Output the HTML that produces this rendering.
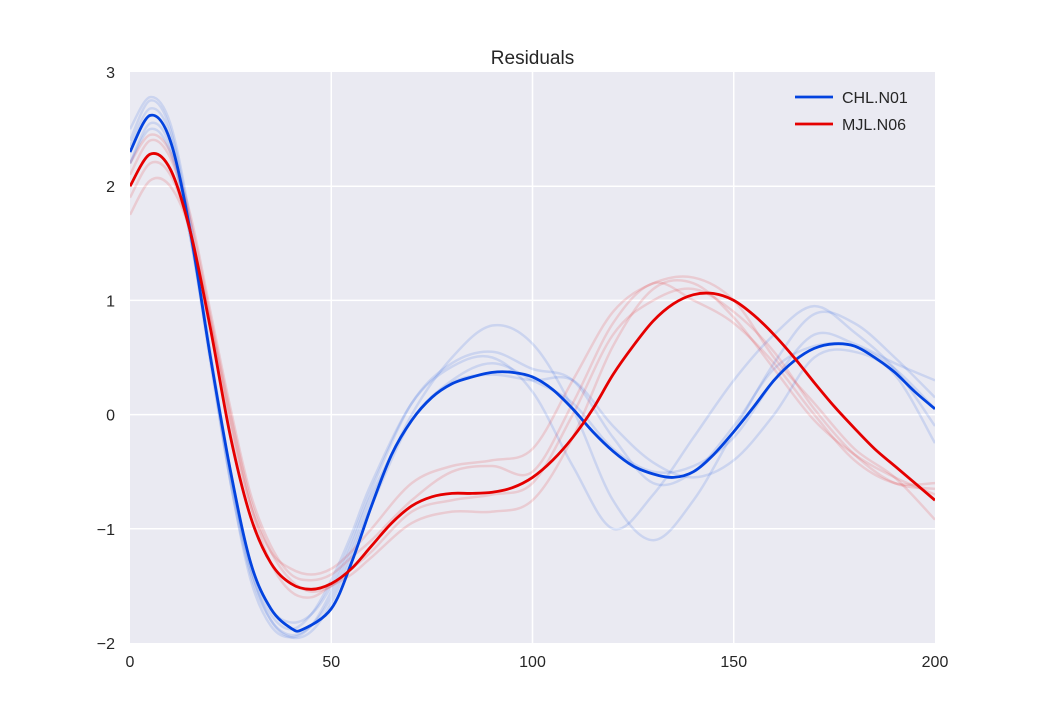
<!DOCTYPE html>
<html><head><meta charset="utf-8"><style>
body{margin:0;background:#fff;}
svg{display:block;font-family:"Liberation Sans",Arial,sans-serif;}
</style></head><body>
<svg id="chart" width="1040" height="715" viewBox="0 0 1040 715"></svg>
<script>
const xFine = [0,5,10,15,20,25,30,35,40,43,50,55,60,65,70,75,80,85,90,95,100,105,110,115,120,125,130,135,140,145,150,155,160,165,170,175,180,185,190,195,200];
const blueMain = [2.3,2.62,2.4,1.6,0.5,-0.5,-1.3,-1.7,-1.87,-1.88,-1.7,-1.3,-0.8,-0.35,-0.05,0.15,0.27,0.33,0.37,0.37,0.33,0.22,0.05,-0.15,-0.32,-0.45,-0.52,-0.55,-0.5,-0.35,-0.15,0.07,0.3,0.47,0.58,0.62,0.6,0.5,0.37,0.2,0.05];
const xRed = [0,5,10,15,20,25,30,35,40,45,50,55,60,65,70,75,80,85,90,95,100,105,110,115,120,125,130,135,140,145,150,155,160,165,170,175,180,185,190,195,200];
const redMain = [2.0,2.28,2.15,1.6,0.75,-0.2,-0.9,-1.3,-1.48,-1.53,-1.48,-1.35,-1.15,-0.95,-0.8,-0.72,-0.69,-0.69,-0.68,-0.64,-0.55,-0.4,-0.2,0.05,0.35,0.6,0.82,0.97,1.05,1.06,1.0,0.87,0.7,0.5,0.28,0.07,-0.12,-0.3,-0.45,-0.6,-0.75];
const xFaint = [0,5,10,15,20,25,30,35,40,45,50,55,60,70,80,90,100,110,120,130,140,150,160,170,180,190,200];
const blueFaint1 = [2.4,2.75,2.5,1.65,0.5,-0.6,-1.4,-1.8,-1.93,-1.85,-1.6,-1.2,-0.75,0.0,0.5,0.78,0.62,0.05,-0.75,-1.1,-0.75,-0.15,0.45,0.88,0.8,0.5,0.15];
const blueFaint2 = [2.2,2.55,2.35,1.55,0.45,-0.6,-1.45,-1.85,-1.95,-1.85,-1.55,-1.15,-0.7,-0.05,0.3,0.45,0.3,0.1,-0.3,-0.5,-0.45,-0.2,0.3,0.7,0.62,0.45,0.3];
const blueFaint3 = [2.35,2.68,2.45,1.6,0.5,-0.55,-1.35,-1.75,-1.88,-1.75,-1.45,-1.05,-0.6,0.1,0.42,0.5,0.2,-0.45,-1.0,-0.7,-0.2,0.3,0.7,0.95,0.72,0.4,-0.1];
const blueFaint4 = [2.5,2.78,2.55,1.7,0.55,-0.5,-1.35,-1.8,-1.95,-1.9,-1.65,-1.25,-0.8,-0.05,0.28,0.35,0.3,0.3,-0.1,-0.42,-0.55,-0.4,0.0,0.5,0.55,0.35,-0.25];
const blueFaint5 = [2.2,2.5,2.3,1.55,0.5,-0.5,-1.3,-1.7,-1.82,-1.75,-1.5,-1.1,-0.65,0.1,0.45,0.55,0.4,0.3,-0.2,-0.6,-0.5,-0.1,0.4,0.6,0.6,0.4,0.05];
const redFaint1 = [1.75,2.05,2.0,1.6,0.8,-0.1,-0.8,-1.2,-1.35,-1.4,-1.35,-1.2,-1.0,-0.6,-0.45,-0.4,-0.3,0.3,0.9,1.15,1.2,1.0,0.5,0.1,-0.3,-0.55,-0.92];
const redFaint2 = [2.1,2.4,2.25,1.7,0.85,0.0,-0.75,-1.2,-1.45,-1.55,-1.5,-1.35,-1.2,-0.85,-0.75,-0.7,-0.6,0.0,0.7,1.0,1.1,0.9,0.55,0.05,-0.35,-0.6,-0.65];
const redFaint3 = [1.9,2.2,2.1,1.6,0.8,-0.05,-0.8,-1.3,-1.55,-1.6,-1.5,-1.4,-1.25,-0.95,-0.85,-0.85,-0.75,-0.2,0.6,1.1,1.15,0.85,0.4,-0.05,-0.35,-0.55,-0.7];
const redFaint4 = [2.2,2.45,2.3,1.75,0.9,0.05,-0.7,-1.15,-1.4,-1.45,-1.4,-1.25,-1.1,-0.75,-0.5,-0.45,-0.5,0.1,0.8,1.15,1.0,0.8,0.45,0.0,-0.4,-0.6,-0.6];
const xTicks = [0,50,100,150,200];
const yTicks = [3,2,1,0,-1,-2];
const yTickLabels = ["3","2","1","0","\u22121","\u22122"];

const L=130,R=935,T=72,B=643;
const sx=v=>L+(v-0)/200*(R-L);
const sy=v=>T+(3-v)/5*(B-T);
const NS="http://www.w3.org/2000/svg";
const svg=document.getElementById('chart');
function mk(tag,attrs,parent){const e=document.createElementNS(NS,tag);for(const k in attrs)e.setAttribute(k,attrs[k]);(parent||svg).appendChild(e);return e;}

const bg=mk('rect',{x:L,y:T,width:R-L,height:B-T,fill:'#eaeaf2'});


xTicks.forEach(t=>{if(t>0&&t<200){const g=mk('line',{x1:sx(t),x2:sx(t),y1:T,y2:B,stroke:'#fff','stroke-width':1.5});

}
const tx=mk('text',{x:sx(t),y:B+24,'text-anchor':'middle','font-size':16,fill:'#262626'});tx.textContent=t;

});
yTicks.forEach((t,i)=>{if(t<3&&t>-2){const g=mk('line',{x1:L,x2:R,y1:sy(t),y2:sy(t),stroke:'#fff','stroke-width':1.5});

}
const tx=mk('text',{x:L-15,y:sy(t)+6,'text-anchor':'end','font-size':16,fill:'#262626'});tx.textContent=yTickLabels[i];

});

function pathD(xs,ys){const p=xs.map((x,i)=>[sx(x),sy(ys[i])]);let d='M'+p[0][0]+','+p[0][1];
for(let i=0;i<p.length-1;i++){const p0=p[i-1]||p[i],p1=p[i],p2=p[i+1],p3=p[i+2]||p2;
const c1=[p1[0]+(p2[0]-p0[0])/6,p1[1]+(p2[1]-p0[1])/6],c2=[p2[0]-(p3[0]-p1[0])/6,p2[1]-(p3[1]-p1[1])/6];
d+=' C'+c1+' '+c2+' '+p2;}return d;}
const clip=mk('clipPath',{id:'cp'});mk('rect',{x:L,y:T,width:R-L,height:B-T},clip);
const g=mk('g',{'clip-path':'url(#cp)'});
[blueFaint1,blueFaint2,blueFaint3,blueFaint4,blueFaint5].forEach(s=>{const e=mk('path',{d:pathD(xFaint,s),fill:'none',stroke:'#0343df','stroke-opacity':0.13,'stroke-width':2.5},g);

});
[redFaint1,redFaint2,redFaint3,redFaint4].forEach(s=>{const e=mk('path',{d:pathD(xFaint,s),fill:'none',stroke:'#e50000','stroke-opacity':0.13,'stroke-width':2.5},g);

});
const bl=mk('path',{d:pathD(xFine,blueMain),fill:'none',stroke:'#0343df','stroke-width':2.8},g);


const rl=mk('path',{d:pathD(xRed,redMain),fill:'none',stroke:'#e50000','stroke-width':2.8},g);



const title=mk('text',{x:(L+R)/2,y:64,'text-anchor':'middle','font-size':19,fill:'#262626'});title.textContent='Residuals';


[['CHL.N01','#0343df',97],['MJL.N06','#e50000',124]].forEach(([n,c,y])=>{
const lg=mk('g',{});


mk('line',{x1:795,x2:833,y1:y,y2:y,stroke:c,'stroke-width':2.8},lg);
const t=mk('text',{x:842,y:y+6,'font-size':16,fill:'#262626'},lg);t.textContent=n;});
</script>
</body></html>
